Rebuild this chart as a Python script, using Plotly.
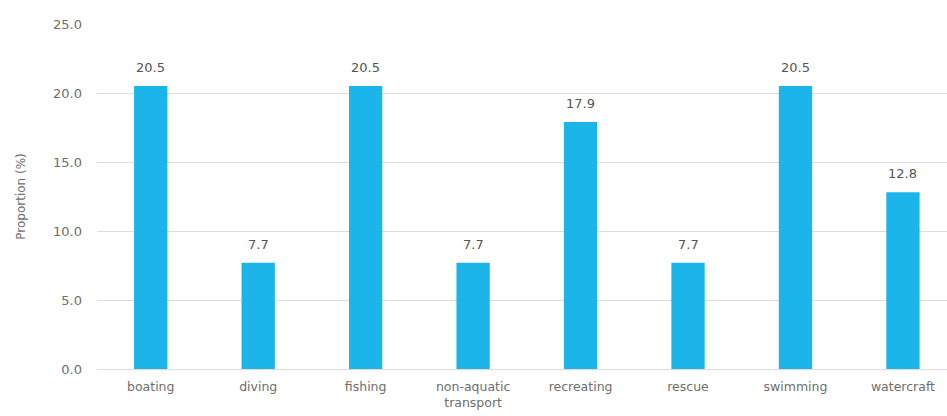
import plotly.graph_objects as go

# Activity categories and their share of incidents
categories = ["boating", "diving", "fishing", "non-aquatic<br>transport",
              "recreating", "rescue", "swimming", "watercraft"]
proportions = [20.5, 7.7, 20.5, 7.7, 17.9, 7.7, 20.5, 12.8]
y_ticks = [0, 5, 10, 15, 20, 25]

BAR_COLOR = "#1cb5ea"
TEXT_COLOR = "#6e6e6e"
FONT = "DejaVu Sans, Verdana, sans-serif"

fig = go.Figure(
    go.Bar(
        x=categories,
        y=proportions,
        marker=dict(color=BAR_COLOR, line=dict(width=0)),
        width=0.31,
    )
)

# value labels above each bar
for cat, val in zip(categories, proportions):
    fig.add_annotation(
        x=cat, y=val, text=f"{val:.1f}", showarrow=False,
        yanchor="bottom", yshift=9,
        font=dict(family=FONT, size=13, color="#555555"),
    )

fig.update_layout(
    width=947, height=416,
    margin=dict(l=97, r=0, t=24, b=47),
    paper_bgcolor="white", plot_bgcolor="white",
    font=dict(family=FONT, size=12.5, color=TEXT_COLOR),
    showlegend=False,
)
fig.update_xaxes(
    range=[-0.5, 7.41],
    showgrid=False, zeroline=False, showline=False,
    ticks="", ticklabelstandoff=8,
    tickfont=dict(size=12.5, color=TEXT_COLOR),
)
fig.update_yaxes(
    range=[0, 25], tickvals=y_ticks, tickformat=".1f",
    showgrid=True, gridcolor="#dcdcdc", gridwidth=1,
    zeroline=True, zerolinecolor="#dcdcdc", zerolinewidth=1,
    ticks="", ticklabelstandoff=14,
    tickfont=dict(size=13, color=TEXT_COLOR),
    title=dict(text="Proportion (%)", standoff=24,
               font=dict(size=12, color=TEXT_COLOR)),
)

fig.write_html("out.html")
